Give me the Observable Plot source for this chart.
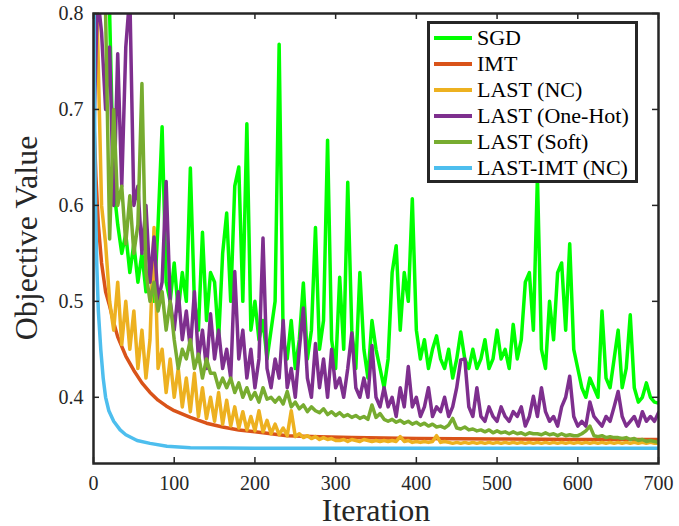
<!DOCTYPE html>
<html><head><meta charset="utf-8">
<script src="https://cdn.jsdelivr.net/npm/d3@7"></script>
<script src="https://cdn.jsdelivr.net/npm/@observablehq/plot@0.6"></script>
<style>
body{margin:0;background:#fff;}
#wrap{position:relative;width:679px;height:526px;}
#wrap svg, #wrap svg text{font-family:"Liberation Serif","Times New Roman",Tinos,Times,"DejaVu Serif","Noto Serif",serif !important;}
#legend{position:absolute;left:427px;top:21px;width:205px;height:156px;border:3px solid #262626;background:#fff;font-family:"Liberation Serif","Times New Roman",Tinos,Times,"DejaVu Serif","Noto Serif",serif;font-size:22px;color:#000;}
.row{position:absolute;left:0;height:26px;display:flex;align-items:center;white-space:nowrap;}
.sw{width:38px;height:3.5px;margin-left:4px;margin-right:5px;}
#ylabel{position:absolute;left:26px;top:238px;transform:translate(-50%,-50%) rotate(-90deg);white-space:nowrap;font-family:"Liberation Serif","Times New Roman",Tinos,Times,"DejaVu Serif","Noto Serif",serif;font-size:32px;line-height:1;color:#262626;}
</style></head><body><div id="wrap"></div>
<script>
// ---- data ----
const seriesNames = ["SGD", "IMT", "LAST (NC)", "LAST (One-Hot)", "LAST (Soft)", "LAST-IMT (NC)"];
const seriesColors = ["#00ff00", "#d95319", "#edb120", "#7e2f8e", "#77ac30", "#4dbeee"];
const xLabel = "Iteration";
const yLabel = "Objective Value";

// iterations 0,5,10,...,700 for the noisy series
const noisyIters = d3.range(0, 701, 5);

const sgdValues = [0.95,0.92,0.88,0.84,0.80,0.62,0.58,0.55,0.57,0.53,0.56,0.52,0.55,0.51,0.54,0.50,0.58,0.682,0.52,0.50,
0.54,0.49,0.53,0.50,0.639,0.50,0.47,0.572,0.48,0.53,0.52,0.46,0.55,0.592,0.50,0.62,0.64,0.50,0.685,0.47,
0.50,0.46,0.48,0.44,0.47,0.50,0.768,0.46,0.44,0.48,0.43,0.46,0.519,0.44,0.47,0.577,0.45,0.48,0.668,0.46,
0.43,0.525,0.45,0.624,0.47,0.43,0.53,0.45,0.42,0.48,0.45,0.43,0.41,0.44,0.53,0.558,0.47,0.53,0.50,0.607,
0.47,0.44,0.46,0.43,0.45,0.464,0.44,0.43,0.45,0.42,0.44,0.468,0.44,0.43,0.45,0.43,0.44,0.46,0.43,0.44,
0.47,0.44,0.45,0.43,0.476,0.44,0.46,0.52,0.53,0.47,0.63,0.45,0.43,0.50,0.46,0.53,0.54,0.47,0.56,0.45,
0.43,0.41,0.40,0.42,0.41,0.40,0.49,0.42,0.41,0.44,0.47,0.41,0.43,0.486,0.41,0.395,0.40,0.415,0.40,0.395,0.394];

const oneHotValues = [0.66,0.82,0.78,0.70,0.765,0.60,0.758,0.62,0.765,0.82,0.60,0.62,0.55,0.60,0.52,0.567,0.50,0.52,0.625,0.50,
0.47,0.51,0.46,0.49,0.45,0.51,0.44,0.47,0.43,0.487,0.44,0.47,0.43,0.45,0.42,0.531,0.44,0.47,0.42,0.45,
0.41,0.44,0.566,0.43,0.41,0.44,0.42,0.48,0.41,0.43,0.40,0.45,0.493,0.42,0.40,0.456,0.41,0.44,0.40,0.45,
0.41,0.42,0.40,0.43,0.467,0.41,0.40,0.42,0.40,0.454,0.40,0.39,0.41,0.39,0.40,0.38,0.41,0.39,0.432,0.39,
0.40,0.38,0.39,0.41,0.38,0.39,0.385,0.40,0.38,0.39,0.41,0.439,0.44,0.39,0.38,0.41,0.38,0.375,0.39,0.38,
0.375,0.39,0.38,0.375,0.385,0.38,0.39,0.37,0.38,0.401,0.38,0.41,0.385,0.375,0.38,0.37,0.39,0.40,0.422,0.38,
0.37,0.375,0.37,0.395,0.38,0.375,0.37,0.38,0.375,0.39,0.406,0.38,0.37,0.375,0.38,0.37,0.385,0.375,0.38,0.375,0.384];

const ncValues = [0.95,0.78,0.60,0.56,0.50,0.47,0.52,0.455,0.50,0.45,0.49,0.43,0.47,0.42,0.46,0.577,0.43,0.45,0.405,0.44,
0.40,0.43,0.39,0.42,0.385,0.425,0.38,0.41,0.378,0.40,0.375,0.405,0.372,0.397,0.37,0.39,0.368,0.385,0.366,0.38,
0.365,0.386,0.364,0.376,0.362,0.372,0.361,0.368,0.36,0.386,0.359,0.362,0.358,0.36,0.357,0.359,0.356,0.358,0.356,0.357,
0.355,0.355,0.356,0.354,0.356,0.355,0.354,0.356,0.355,0.354,0.355,0.354,0.355,0.354,0.355,0.354,0.359,0.354,0.355,0.353,
0.354,0.353,0.354,0.353,0.354,0.36,0.353,0.354,0.353,0.352,0.353,0.352,0.353,0.352,0.353,0.352,0.353,0.352,0.353,0.352,
0.353,0.352,0.353,0.352,0.353,0.352,0.353,0.352,0.353,0.352,0.353,0.352,0.353,0.352,0.353,0.352,0.353,0.352,0.353,0.352,
0.353,0.352,0.353,0.352,0.353,0.352,0.353,0.352,0.353,0.352,0.353,0.352,0.353,0.352,0.353,0.352,0.353,0.352,0.353,0.352,0.352];

const softValues = [0.95,0.88,0.82,0.80,0.565,0.70,0.60,0.62,0.56,0.61,0.55,0.58,0.727,0.53,0.50,0.52,0.49,0.51,0.47,0.50,
0.46,0.43,0.45,0.44,0.46,0.43,0.445,0.42,0.44,0.425,0.425,0.41,0.42,0.41,0.42,0.405,0.415,0.40,0.41,0.398,
0.405,0.395,0.41,0.398,0.40,0.395,0.40,0.393,0.406,0.39,0.395,0.388,0.392,0.385,0.39,0.386,0.384,0.388,0.382,0.385,
0.381,0.384,0.38,0.382,0.379,0.381,0.378,0.38,0.377,0.392,0.379,0.383,0.377,0.375,0.377,0.374,0.376,0.373,0.375,0.372,
0.374,0.371,0.373,0.370,0.372,0.369,0.370,0.368,0.371,0.378,0.368,0.367,0.369,0.366,0.367,0.365,0.366,0.364,0.366,0.363,
0.365,0.363,0.364,0.362,0.364,0.362,0.363,0.361,0.363,0.362,0.362,0.361,0.363,0.361,0.362,0.360,0.362,0.360,0.361,0.360,
0.360,0.362,0.365,0.370,0.360,0.359,0.360,0.358,0.359,0.358,0.358,0.357,0.358,0.356,0.357,0.355,0.356,0.354,0.355,0.354,0.353];

const imtIters = [0,3,6,10,15,20,25,30,40,50,60,70,80,90,100,120,140,160,180,200,240,280,320,400,500,600,700];
const imtValues = [0.70,0.63,0.58,0.54,0.51,0.495,0.478,0.463,0.443,0.428,0.415,0.405,0.397,0.391,0.386,0.379,0.373,0.369,0.366,0.364,0.360,0.359,0.358,0.357,0.3565,0.356,0.356];

const lastImtIters = [0,1,2,4,6,9,12,15,19,25,33,40,54,70,91,120,200,700];
const lastImtValues = [0.95,0.75,0.62,0.54,0.49,0.45,0.42,0.40,0.386,0.375,0.366,0.361,0.355,0.352,0.349,0.3475,0.347,0.347];

const xTicks = [0,100,200,300,400,500,600,700];
const yTicks = [0.4,0.5,0.6,0.7,0.8];

// ---- build ----
const seriesData = [
  noisyIters.map((it,i)=>({it, v: sgdValues[i]})),
  imtIters.map((it,i)=>({it, v: imtValues[i]})),
  noisyIters.map((it,i)=>({it, v: ncValues[i]})),
  noisyIters.map((it,i)=>({it, v: oneHotValues[i]})),
  noisyIters.map((it,i)=>({it, v: softValues[i]})),
  lastImtIters.map((it,i)=>({it, v: lastImtValues[i]}))
];

const W = 679, H = 526, mt = 13, mb = 63, ml = 93, mr = 21;
const plotH = H - mt - mb, plotW = W - ml - mr;
const ink = "#262626";
const serif = '"Liberation Serif","Times New Roman",Tinos,Times,"DejaVu Serif","Noto Serif",serif';

const chart = Plot.plot({
  width: W, height: H, marginTop: mt, marginBottom: mb, marginLeft: ml, marginRight: mr,
  style: {fontFamily: serif, fontSize: "20px", color: ink, background: "#fff"},
  x: {domain: [0, 700], label: null},
  y: {domain: [0.331, 0.8], label: null},
  marks: [
    ...seriesData.map((d, k) => Plot.line(d, {x: "it", y: "v", stroke: seriesColors[k], strokeWidth: 3.5, strokeLinejoin: "round", clip: true})),
    Plot.frame({stroke: ink, strokeWidth: 2.5}),
    Plot.tickX(xTicks, {x: d => d, insetTop: plotH - 6, stroke: ink, strokeWidth: 1.5}),
    Plot.tickX(xTicks, {x: d => d, insetBottom: plotH - 6, stroke: ink, strokeWidth: 1.5}),
    Plot.tickY(yTicks, {y: d => d, insetRight: plotW - 6, stroke: ink, strokeWidth: 1.5}),
    Plot.tickY(yTicks, {y: d => d, insetLeft: plotW - 6, stroke: ink, strokeWidth: 1.5}),
    Plot.axisX(xTicks, {tickSize: 0, tickPadding: 12, label: null, fontSize: 20, fontFamily: serif, tickFormat: d => String(d)}),
    Plot.axisY(yTicks, {tickSize: 0, tickPadding: 10, label: null, fontSize: 20, fontFamily: serif, tickFormat: d3.format(".1f")}),
    Plot.text([xLabel], {text: d => d, frameAnchor: "bottom", dy: 57, lineAnchor: "bottom", fontSize: 32, fontFamily: serif, fill: ink})
  ]
});

const wrap = document.getElementById("wrap");
wrap.appendChild(chart);

const yl = document.createElement("div");
yl.id = "ylabel";
yl.textContent = yLabel;
wrap.appendChild(yl);

const legend = document.createElement("div");
legend.id = "legend";
seriesNames.forEach((name, k) => {
  const row = document.createElement("div");
  row.className = "row";
  row.style.top = (1 + k * 26) + "px";
  const sw = document.createElement("div");
  sw.className = "sw";
  sw.style.background = seriesColors[k];
  const tx = document.createElement("span");
  tx.textContent = name;
  row.appendChild(sw); row.appendChild(tx);
  legend.appendChild(row);
});
wrap.appendChild(legend);
</script></body></html>
